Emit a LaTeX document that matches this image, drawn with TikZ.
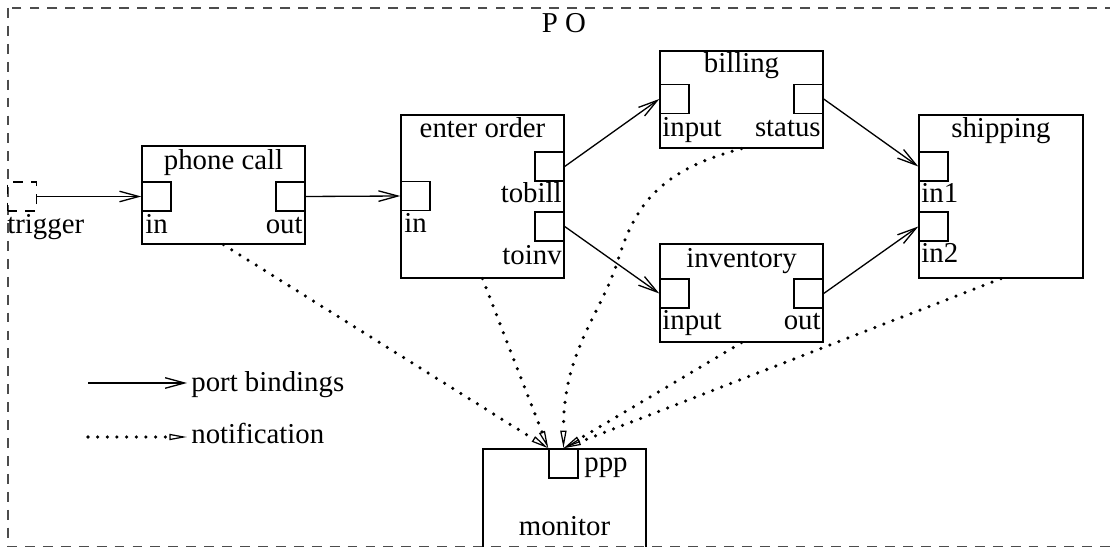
\documentclass[tikz,border=0pt]{standalone}
\usepackage{fontspec}
\setmainfont{Liberation Serif}
\usetikzlibrary{arrows.meta}

\begin{document}
\begin{tikzpicture}[x=0.02cm, y=-0.02cm,
    font=\fontsize{16.4pt}{19pt}\selectfont,
    block/.style={draw, line width=0.8pt, inner sep=0pt},
    port/.style={draw, line width=0.8pt, minimum size=0.58cm, inner sep=0pt},
    lbl/.style={inner sep=0pt},
    bind/.style={line width=0.75pt, -{Straight Barb[length=11pt, width=6pt, line width=0.75pt]}},
    notify/.style={line width=2pt, line cap=round, dash pattern=on 0pt off 5.5pt,
        -{Triangle[open, length=10pt, width=3.5pt, line width=0.7pt]}},
    frame/.style={line width=0.7pt, black!70, dash pattern=on 5.6pt off 4.6pt}]
    \useasboundingbox (0,0) rectangle (1110,547);

    % outer frame
    \draw[frame] (8,8) rectangle (1116,546.5);
    \node[lbl, anchor=base] (potitle) at (564,33) {P O};

    % phone call
    \node[block, minimum width=3.26cm, minimum height=1.96cm] (phone) at (223.5,195) {};
    \node[lbl, anchor=base] (phonet) at (223.5,170) {phone call};
    \node[port] (phonein) at (156.5,196.5) {};
    \node[port] (phoneout) at (290.5,196.5) {};
    \node[lbl, anchor=base west] (phoneinl) at (145,234) {in};
    \node[lbl, anchor=base east] (phoneoutl) at (303,234) {out};

    % trigger
    \node[port, frame, draw=black] (trigger) at (22,196.5) {};
    \node[lbl, anchor=base west] (triggerl) at (7,234) {trigger};

    % enter order
    \node[block, minimum width=3.26cm, minimum height=3.26cm] (order) at (482.5,196.5) {};
    \node[lbl, anchor=base] (ordert) at (482.5,138) {enter order};
    \node[port] (orderin) at (415.5,196) {};
    \node[port] (tobill) at (549.5,166.5) {};
    \node[port] (toinv) at (549.5,226.5) {};
    \node[lbl, anchor=base west] (orderinl) at (404,233) {in};
    \node[lbl, anchor=base east] (tobilll) at (562,203) {tobill};
    \node[lbl, anchor=base east] (toinvl) at (562,265) {toinv};

    % billing
    \node[block, minimum width=3.26cm, minimum height=1.94cm] (billing) at (741.5,99.5) {};
    \node[lbl, anchor=base] (billingt) at (741.5,73) {billing};
    \node[port] (billin) at (674.5,99) {};
    \node[port] (status) at (808.5,99) {};
    \node[lbl, anchor=base west] (billinl) at (662,137) {input};
    \node[lbl, anchor=base east] (statusl) at (821,137) {status};

    % inventory
    \node[block, minimum width=3.26cm, minimum height=1.96cm] (inventory) at (741.5,293) {};
    \node[lbl, anchor=base] (inventoryt) at (741.5,268) {inventory};
    \node[port] (invin) at (674.5,293.5) {};
    \node[port] (invout) at (808.5,293.5) {};
    \node[lbl, anchor=base west] (invinl) at (662,330) {input};
    \node[lbl, anchor=base east] (invoutl) at (821,330) {out};

    % shipping
    \node[block, minimum width=3.28cm, minimum height=3.26cm] (shipping) at (1001,196.5) {};
    \node[lbl, anchor=base] (shippingt) at (1001,138) {shipping};
    \node[port] (in1) at (933.5,166.5) {};
    \node[port] (in2) at (933.5,226.5) {};
    \node[lbl, anchor=base west] (in1l) at (921,203) {in1};
    \node[lbl, anchor=base west] (in2l) at (921,263) {in2};

    % monitor
    \node[block, minimum width=3.26cm, minimum height=2.24cm] (monitor) at (564.5,505) {};
    \node[lbl, anchor=base] (monitort) at (564.5,536) {monitor};
    \node[port] (ppp) at (563.5,463.5) {};
    \node[lbl, anchor=base west] (pppl) at (584,472) {ppp};

    % port bindings
    \draw[bind] (trigger.east) -- (phonein.west);
    \draw[bind] (phoneout.east) -- (orderin.west);
    \draw[bind] (tobill.east) -- (billin.west);
    \draw[bind] (toinv.east) -- (invin.west);
    \draw[bind] (status.east) -- (in1.west);
    \draw[bind] (invout.east) -- (in2.west);

    % notifications to the monitor
    \draw[notify] (phone.south) -- (ppp.north west);
    \draw[notify] (order.south) -- (ppp.north west);
    \draw[notify] (billing.south) .. controls (660,170) and (635,205) .. (618,260)
        .. controls (601,315) and (563,350) .. (ppp.north);
    \draw[notify] (inventory.south) -- (ppp.north);
    \draw[notify] (shipping.south) -- (ppp.north);

    % legend
    \coordinate (bindfrom) at (88,383);
    \coordinate (bindto) at (187,383);
    \draw[bind] (bindfrom) -- (bindto);
    \node[lbl, anchor=base west] (bindtxt) at (191,392) {port bindings};
    \coordinate (notefrom) at (88,437);
    \coordinate (noteto) at (187,437);
    \draw[notify] (notefrom) -- (noteto);
    \node[lbl, anchor=base west] (notetxt) at (191,444) {notification};
\end{tikzpicture}
\end{document}
